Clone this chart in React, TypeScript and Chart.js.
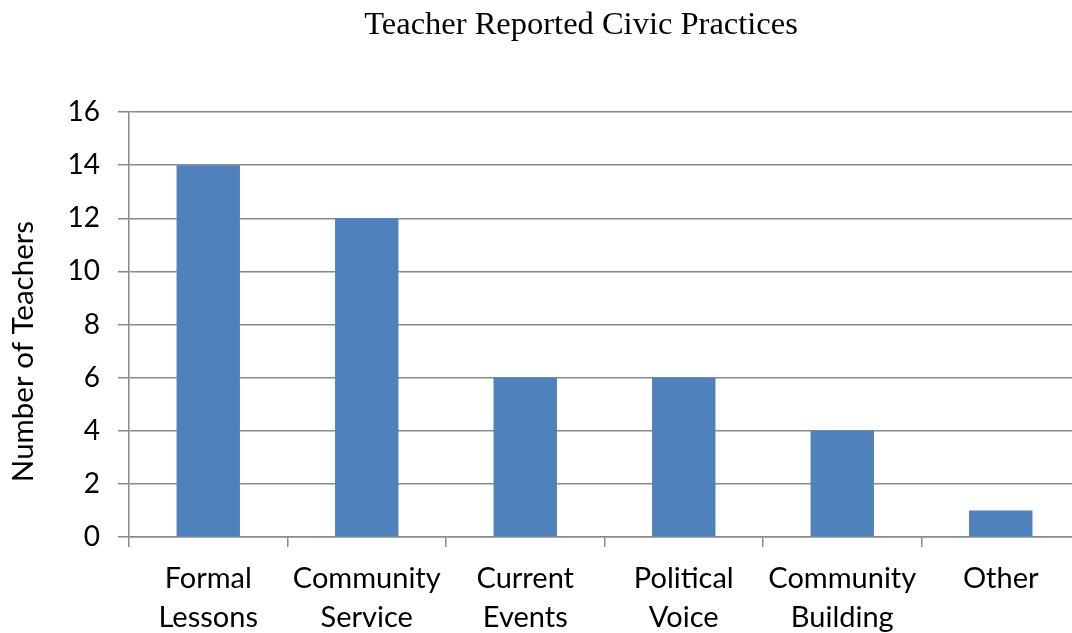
import React, { useEffect, useRef } from "react";
import { Chart, registerables } from "chart.js";

Chart.register(...registerables);

const categories: string[][] = [
  ["Formal", "Lessons"],
  ["Community", "Service"],
  ["Current", "Events"],
  ["Political", "Voice"],
  ["Community", "Building"],
  ["Other"],
];
const teacherCounts: number[] = [14, 12, 6, 6, 4, 1];
const yMin = 0;
const yMax = 16;
const yStep = 2;
const chartTitle = "Teacher Reported Civic Practices";
const yAxisTitle = "Number of Teachers";

const GRID = "#8a8a8a";
const SANS = "Lato, 'Open Sans', sans-serif";
const SERIF = "'Liberation Serif', 'Times New Roman', serif";

const titlesPlugin = {
  id: "titlesPlugin",
  afterDraw(chart: any) {
    const ctx = chart.ctx;
    const area = chart.chartArea;
    ctx.save();
    ctx.fillStyle = "#000";
    ctx.font = `32.5px ${SERIF}`;
    ctx.textAlign = "center";
    ctx.textBaseline = "alphabetic";
    ctx.fillText(chartTitle, 581, 34);
    ctx.restore();

    ctx.save();
    ctx.translate(23, (area.top + area.bottom) / 2 + 27);
    ctx.rotate(-Math.PI / 2);
    ctx.fillStyle = "#000";
    ctx.font = `29.5px ${SANS}`;
    ctx.textAlign = "center";
    ctx.textBaseline = "middle";
    ctx.fillText(yAxisTitle, 0, 0);
    ctx.restore();
  },
};

export default function App() {
  const ref = useRef<HTMLCanvasElement | null>(null);
  useEffect(() => {
    if (!ref.current) return;
    const chart = new Chart(ref.current, {
      type: "bar",
      data: {
        labels: categories,
        datasets: [
          {
            data: teacherCounts,
            backgroundColor: "#4F81BD",
            barPercentage: 0.4,
            categoryPercentage: 1,
          },
        ],
      },
      plugins: [titlesPlugin],
      options: {
        responsive: false,
        animation: false,
        layout: { padding: { left: 0, right: 0, top: 112, bottom: 0 } },
        plugins: {
          legend: { display: false },
          tooltip: { enabled: false },
          title: { display: false },
        },
        scales: {
          x: {
            afterFit: (s: any) => {
              s.height = 96;
            },
            grid: {
              display: true,
              drawOnChartArea: false,
              drawTicks: true,
              tickLength: 10,
              offset: true,
              color: GRID,
              lineWidth: 1.5,
            },
            border: { display: true, color: GRID, width: 1.5 },
            ticks: {
              color: "#000",
              font: { family: SANS, size: 29, lineHeight: 1.345 },
              padding: 12,
              maxRotation: 0,
              autoSkip: false,
            },
          },
          y: {
            min: yMin,
            max: yMax,
            afterFit: (s: any) => {
              s.width = 129;
            },
            grid: {
              color: GRID,
              lineWidth: 1.5,
              drawTicks: true,
              tickLength: 11,
            },
            border: { display: true, color: GRID, width: 1.5 },
            ticks: {
              stepSize: yStep,
              color: "#000",
              font: { family: SANS, size: 28 },
              padding: 18,
            },
          },
        },
      },
    });
    return () => chart.destroy();
  }, []);
  return (
    <div
      style={{
        position: "fixed",
        left: 0,
        top: 0,
        width: 1072,
        height: 633,
        overflow: "hidden",
        background: "#fff",
      }}
    >
      <canvas ref={ref} width={1080} height={633} style={{ width: 1080, height: 633, display: "block" }} />
    </div>
  );
}
